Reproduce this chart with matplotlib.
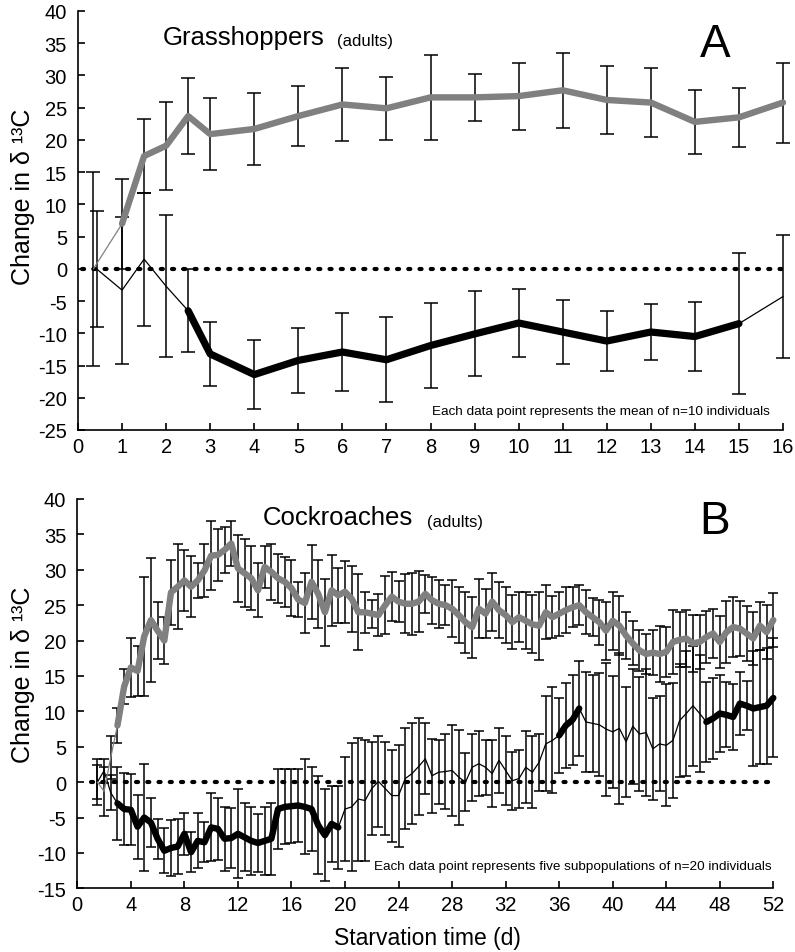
import matplotlib
matplotlib.use('Agg')
import matplotlib.pyplot as plt
import numpy as np

plt.rcParams['font.family'] = ['Liberation Sans', 'DejaVu Sans']
plt.rcParams['axes.unicode_minus'] = False

# ---------------- Panel A: Grasshoppers ----------------
xA_grey = [0.35, 1, 1.5, 2, 2.5, 3, 4, 5, 6, 7, 8, 9, 10, 11, 12, 13, 14, 15, 16]
grey_A = [0, 7.0, 17.5, 19.1, 23.7, 20.9, 21.7, 23.7, 25.5, 24.9, 26.6, 26.6, 26.8,
          27.7, 26.2, 25.8, 22.8, 23.5, 25.8]
grey_A_err = [15, 7.0, 5.7, 6.8, 5.9, 5.6, 5.6, 4.6, 5.7, 4.9, 6.6, 3.6, 5.2, 5.8,
              5.3, 5.3, 5.0, 4.6, 6.2]
xA_black = [0.42, 1, 1.5, 2, 2.5, 3, 4, 5, 6, 7, 8, 9, 10, 11, 12, 13, 14, 15, 16]
black_A = [0, -3.3, 1.5, -2.7, -6.5, -13.2, -16.4, -14.2, -12.9, -14.1, -11.9, -10.1,
           -8.4, -9.8, -11.2, -9.8, -10.5, -8.5, -4.3]
black_A_err = [9, 11.4, 10.3, 11.0, 6.4, 5.0, 5.3, 5.0, 6.0, 6.6, 6.6, 6.6, 5.2, 5.0,
               4.6, 4.3, 5.3, 10.9, 9.6]
# line segments (start day, end day, thick?)
grey_A_segments = [(0.35, 1, False), (1, 16, True)]
black_A_segments = [(0.42, 2.5, False), (2.5, 15, True), (15, 16, False)]

# ---------------- Panel B: Cockroaches ----------------
xB = np.arange(1.5, 52.01, 0.5)
grey_B = [0, -1.3, 3.5, 8.0, 13.5, 16.2, 15.7, 20.6, 22.9, 21.4,
          20.0, 26.8, 27.6, 28.5, 27.6, 28.5, 29.9, 32.0, 32.1, 32.8,
          33.7, 30.2, 29.5, 28.8, 27.1, 30.4, 29.7, 28.8, 28.3, 27.4,
          25.8, 25.3, 28.3, 26.6, 24.0, 27.1, 26.4, 26.9, 25.9, 24.0,
          24.0, 23.8, 23.6, 25.0, 26.2, 25.5, 25.2, 25.2, 25.5, 26.6,
          25.7, 25.2, 25.0, 24.5, 23.6, 22.6, 21.9, 24.5, 23.8, 25.5,
          24.3, 23.6, 22.6, 23.3, 22.8, 22.3, 22.1, 24.0, 23.3, 23.8,
          24.3, 24.7, 25.0, 24.0, 23.3, 22.6, 21.4, 22.8, 22.1, 20.7,
          19.6, 18.6, 18.1, 18.3, 18.1, 18.4, 19.8, 20.1, 20.3, 19.6,
          19.8, 20.5, 21.0, 19.8, 21.2, 21.9, 21.7, 21.0, 20.3, 22.1,
          21.2, 22.9]
grey_B_err = [3.3, 3.5, 3.0, 2.5, 2.5, 4.2, 3.5, 8.4, 8.7, 4.0,
              3.3, 4.6, 6.0, 4.3, 4.3, 2.5, 3.8, 4.9, 3.7, 3.3,
              3.2, 4.7, 4.8, 4.5, 3.8, 3.0, 4.0, 3.5, 3.5, 4.0,
              2.5, 4.3, 5.2, 4.8, 4.7, 5.0, 3.9, 4.4, 4.7, 5.4,
              2.9, 2.0, 3.0, 4.1, 3.5, 2.9, 4.2, 4.4, 4.3, 2.7,
              3.3, 3.4, 2.8, 4.0, 4.0, 4.3, 4.3, 4.2, 3.5, 4.1,
              4.0, 4.0, 3.8, 3.5, 4.0, 4.1, 4.8, 3.8, 3.0, 3.1,
              3.2, 2.8, 2.8, 3.1, 2.7, 3.2, 4.1, 4.1, 4.2, 3.3,
              3.1, 2.9, 2.8, 3.2, 3.9, 3.5, 4.5, 3.9, 4.0, 4.0,
              3.8, 3.7, 3.4, 3.7, 4.4, 4.2, 3.9, 3.9, 3.7, 3.4,
              3.8, 3.8]
black_B = [0, 1.6, -1.5, -3.0, -3.8, -3.9, -6.3, -5.0, -5.7, -8.0,
           -9.7, -9.3, -9.1, -7.3, -9.9, -8.3, -8.5, -6.4, -6.6, -8.0,
           -7.9, -7.3, -7.8, -8.3, -8.6, -8.3, -8.0, -3.8, -3.5, -3.4,
           -3.3, -3.5, -3.8, -6.1, -7.5, -5.9, -6.4, -3.8, -3.5, -2.4,
           -2.6, -0.9, 0.1, -0.9, -1.9, -1.9, 0.5, 1.2, 2.2, 3.3,
           0.9, 1.4, 1.5, 1.65, 0.7, 0.0, 2.1, 2.6, 2.1, 1.2,
           3.1, 1.65, 0.2, 0.5, 2.1, 1.4, 2.8, 5.4, 5.9, 6.6,
           8.0, 8.8, 10.4, 8.5, 8.3, 8.1, 7.5, 7.1, 7.6, 5.7,
           7.9, 6.8, 7.0, 4.7, 5.4, 5.2, 5.9, 8.7, 9.7, 10.8,
           9.7, 8.5, 9.0, 9.7, 9.5, 9.2, 11.1, 10.8, 10.4, 10.6,
           10.8, 11.9]
black_B_err = [2.4, 1.7, 2.5, 5.2, 5.1, 5.0, 4.5, 7.5, 3.5, 2.8,
               3.2, 3.9, 3.9, 3.0, 2.8, 3.9, 2.8, 4.8, 4.4, 4.5,
               4.2, 6.3, 4.8, 4.8, 4.1, 4.8, 5.1, 5.7, 5.3, 5.2,
               5.2, 6.7, 5.9, 6.9, 6.5, 5.4, 5.9, 7.3, 9.0, 8.7,
               8.6, 6.6, 6.4, 6.5, 6.5, 7.2, 7.1, 7.1, 6.9, 5.0,
               5.2, 4.5, 5.3, 6.4, 6.7, 4.1, 4.7, 4.6, 3.9, 4.7,
               4.6, 4.9, 4.1, 4.1, 5.1, 5.1, 4.0, 6.7, 7.5, 5.3,
               6.0, 6.4, 6.7, 7.0, 6.8, 7.3, 9.4, 7.9, 10.7, 7.8,
               8.1, 8.1, 9.0, 7.2, 6.7, 8.6, 8.1, 8.0, 8.8, 8.5,
               8.3, 5.7, 5.7, 5.4, 4.6, 4.7, 4.4, 3.5, 8.1, 8.1,
               8.2, 8.4]
grey_B_segments = [(1.5, 3.0, False), (3.0, 52, True)]
black_B_segments = [(1.5, 3.0, False), (3.0, 19.5, True), (19.5, 36.0, False),
                    (36.0, 37.5, True), (37.5, 47.0, False), (47.0, 52, True)]

GREY = '#808080'
W, H = 795, 953

fig = plt.figure(figsize=(W / 100, H / 100), dpi=100)
axA = fig.add_axes([78 / W, 1 - 431 / H, 705 / W, 419 / H])
axB = fig.add_axes([77.3 / W, 1 - 889.3 / H, 696 / W, 389.3 / H])


def style(ax):
    for s in ['top', 'right']:
        ax.spines[s].set_visible(False)
    for s in ['left', 'bottom']:
        ax.spines[s].set_linewidth(1.2)
    ax.tick_params(direction='in', length=5, width=1.2, labelsize=14.5)
    ax.tick_params(axis='y', pad=8)
    ax.tick_params(axis='x', pad=5)


def draw_series(ax, x, y, err, segments, color, thick_lw, capsize):
    x = np.asarray(x, float)
    y = np.asarray(y, float)
    ax.errorbar(x, y, yerr=err, fmt='none', ecolor='black', elinewidth=1.1,
                capsize=capsize, capthick=1.1, zorder=2, clip_on=False)
    for a, b, thick in segments:
        m = (x >= a - 1e-9) & (x <= b + 1e-9)
        ax.plot(x[m], y[m], color=color, lw=thick_lw if thick else 0.9,
                solid_capstyle='round', solid_joinstyle='round', zorder=4,
                clip_on=False)


def zero_line(ax, x0, x1):
    ax.plot([x0, x1], [0, 0], color='black', lw=3.0,
            linestyle=(0, (0.5, 2.2)), dash_capstyle='round', zorder=3)


# Panel A
style(axA)
draw_series(axA, xA_black, black_A, black_A_err, black_A_segments, 'black', 5.2, 5)
draw_series(axA, xA_grey, grey_A, grey_A_err, grey_A_segments, GREY, 4.6, 5)
zero_line(axA, 0.08, 16)
axA.set_xlim(0, 16)
axA.set_ylim(-25, 40)
axA.set_xticks(range(0, 17))
axA.set_yticks(range(-25, 41, 5))
axA.set_ylabel('Change in δ ¹³C', fontsize=18)
axA.yaxis.set_label_coords(-0.061, 0.56)

# Panel B
style(axB)
draw_series(axB, xB, black_B, black_B_err, black_B_segments, 'black', 4.6, 3.5)
draw_series(axB, xB, grey_B, grey_B_err, grey_B_segments, GREY, 4.6, 3.5)
zero_line(axB, 1.0, 52)
axB.set_xlim(0, 52)
axB.set_ylim(-15, 40)
axB.set_xticks(range(0, 53, 4))
axB.set_yticks(range(-15, 41, 5))
axB.set_ylabel('Change in δ ¹³C', fontsize=18)
axB.yaxis.set_label_coords(-0.061, 0.55)


def ftext(x, y, s, **kw):
    fig.text(x / W, 1 - y / H, s, **kw)


ftext(163, 45, 'Grasshoppers', fontsize=18.5, va='baseline')
ftext(337, 46, '(adults)', fontsize=12, va='baseline')
ftext(715, 57, 'A', fontsize=33, va='baseline', ha='center')
ftext(770, 415, 'Each data point represents the mean of n=10 individuals',
      fontsize=9.7, va='baseline', ha='right')

ftext(263, 525, 'Cockroaches', fontsize=18.5, va='baseline')
ftext(427, 527, '(adults)', fontsize=12, va='baseline')
ftext(715, 534, 'B', fontsize=33, va='baseline', ha='center')
ftext(772, 870, 'Each data point represents five subpopulations of n=20 individuals',
      fontsize=9.7, va='baseline', ha='right')
ftext(427, 945, 'Starvation time (d)', fontsize=16.5, va='baseline', ha='center')

fig.savefig('out.png', dpi=100)
